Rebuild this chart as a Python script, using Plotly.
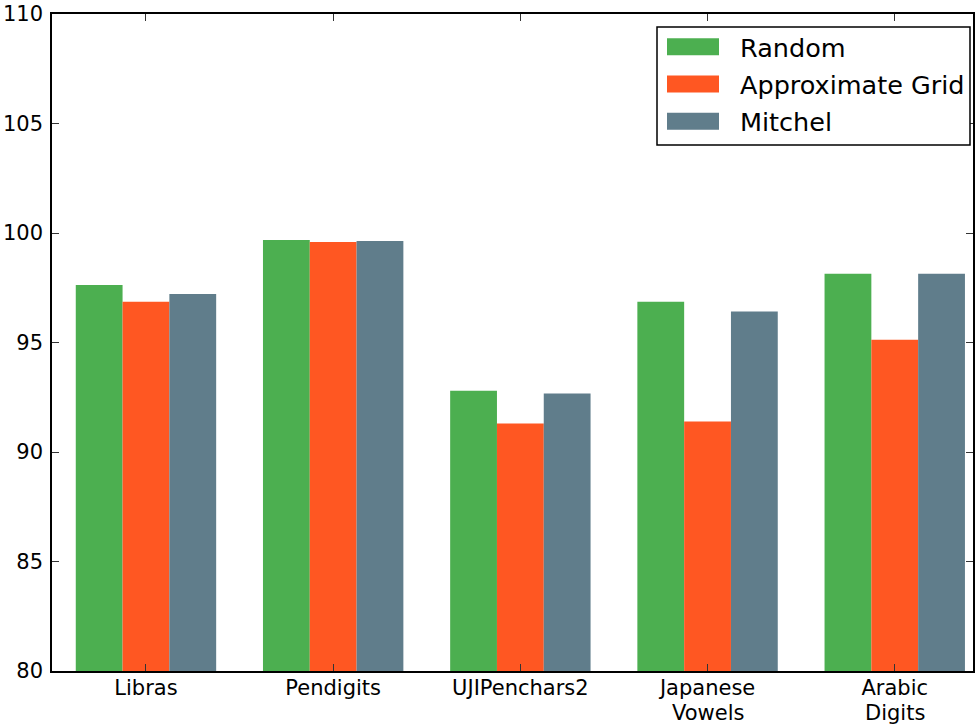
import plotly.graph_objects as go

# Classification accuracy (%) per dataset for each sampling strategy
datasets = ["Libras", "Pendigits", "UJIPenchars2", "Japanese Vowels", "Arabic Digits"]
series_names = ["Random", "Approximate Grid", "Mitchel"]
random_acc = [97.63, 99.68, 92.80, 96.86, 98.14]
approx_grid_acc = [96.86, 99.59, 91.30, 91.39, 95.13]
mitchel_acc = [97.22, 99.63, 92.67, 96.41, 98.14]
colors = ["#4CAF50", "#FF5722", "#607D8B"]
y_ticks = [80, 85, 90, 95, 100, 105, 110]

FONT = "DejaVu Sans"
TICK_SIZE = 21

fig = go.Figure()
for name, vals, col in zip(series_names, [random_acc, approx_grid_acc, mitchel_acc], colors):
    fig.add_trace(go.Bar(
        x=datasets, y=vals, name=name,
        marker=dict(color=col, line=dict(width=0)),
        showlegend=False,
    ))

fig.update_layout(
    width=975, height=724,
    margin=dict(l=52, r=2, t=14, b=52.5, pad=0),
    paper_bgcolor="white", plot_bgcolor="white",
    barmode="group", bargap=0.25, bargroupgap=0,
    font=dict(family=FONT, size=TICK_SIZE, color="black"),
)

# First line of each dataset name as the tick label; a second line (if any)
# is placed just below it with tighter spacing than <br> would give.
first_lines = [d.split(" ")[0] for d in datasets]
fig.update_xaxes(
    range=[-0.502, 4.418], automargin=False,
    tickmode="array", tickvals=datasets, ticktext=first_lines,
    showline=True, linecolor="black", linewidth=1.5, mirror="allticks",
    ticks="inside", ticklen=7, tickcolor="#333333", tickwidth=1,
    showgrid=False, zeroline=False,
    tickfont=dict(family=FONT, size=TICK_SIZE, color="black"),
    ticklabelstandoff=-3,
)
fig.update_yaxes(
    range=[80, 110], tickvals=y_ticks, automargin=False,
    showline=True, linecolor="black", linewidth=1.5, mirror="allticks",
    ticks="inside", ticklen=7, tickcolor="#333333", tickwidth=1,
    showgrid=False, zeroline=False,
    tickfont=dict(family=FONT, size=TICK_SIZE, color="black"),
    ticklabelstandoff=3,
)

px_w, px_h = 921.0, 657.5
def px_x(p):
    return (p - 52) / px_w
def px_y(p):
    return 1 - (p - 14) / px_h

for d in datasets:
    parts = d.split(" ")
    if len(parts) > 1:
        fig.add_annotation(xref="x", yref="paper", x=d, y=px_y(713.5),
                           text=" ".join(parts[1:]), showarrow=False,
                           xanchor="center", yanchor="middle",
                           font=dict(family=FONT, size=TICK_SIZE, color="black"))

# Legend box drawn in the upper-right corner of the axes
fig.add_shape(type="rect", xref="paper", yref="paper",
              x0=px_x(657), x1=px_x(970), y0=px_y(145), y1=px_y(27),
              line=dict(color="black", width=1.5), fillcolor="white", layer="above")
row_centers = [46.7, 84, 121.3]
for name, col, yc in zip(series_names, colors, row_centers):
    fig.add_shape(type="rect", xref="paper", yref="paper",
                  x0=px_x(667), x1=px_x(719), y0=px_y(yc + 8.5), y1=px_y(yc - 8.5),
                  line=dict(width=0), fillcolor=col, layer="above")
    fig.add_annotation(xref="paper", yref="paper", x=px_x(738), y=px_y(yc + 1),
                       text=name, showarrow=False, xanchor="left", yanchor="middle",
                       font=dict(family=FONT, size=25.5, color="black"))

fig.write_html("out.html")
